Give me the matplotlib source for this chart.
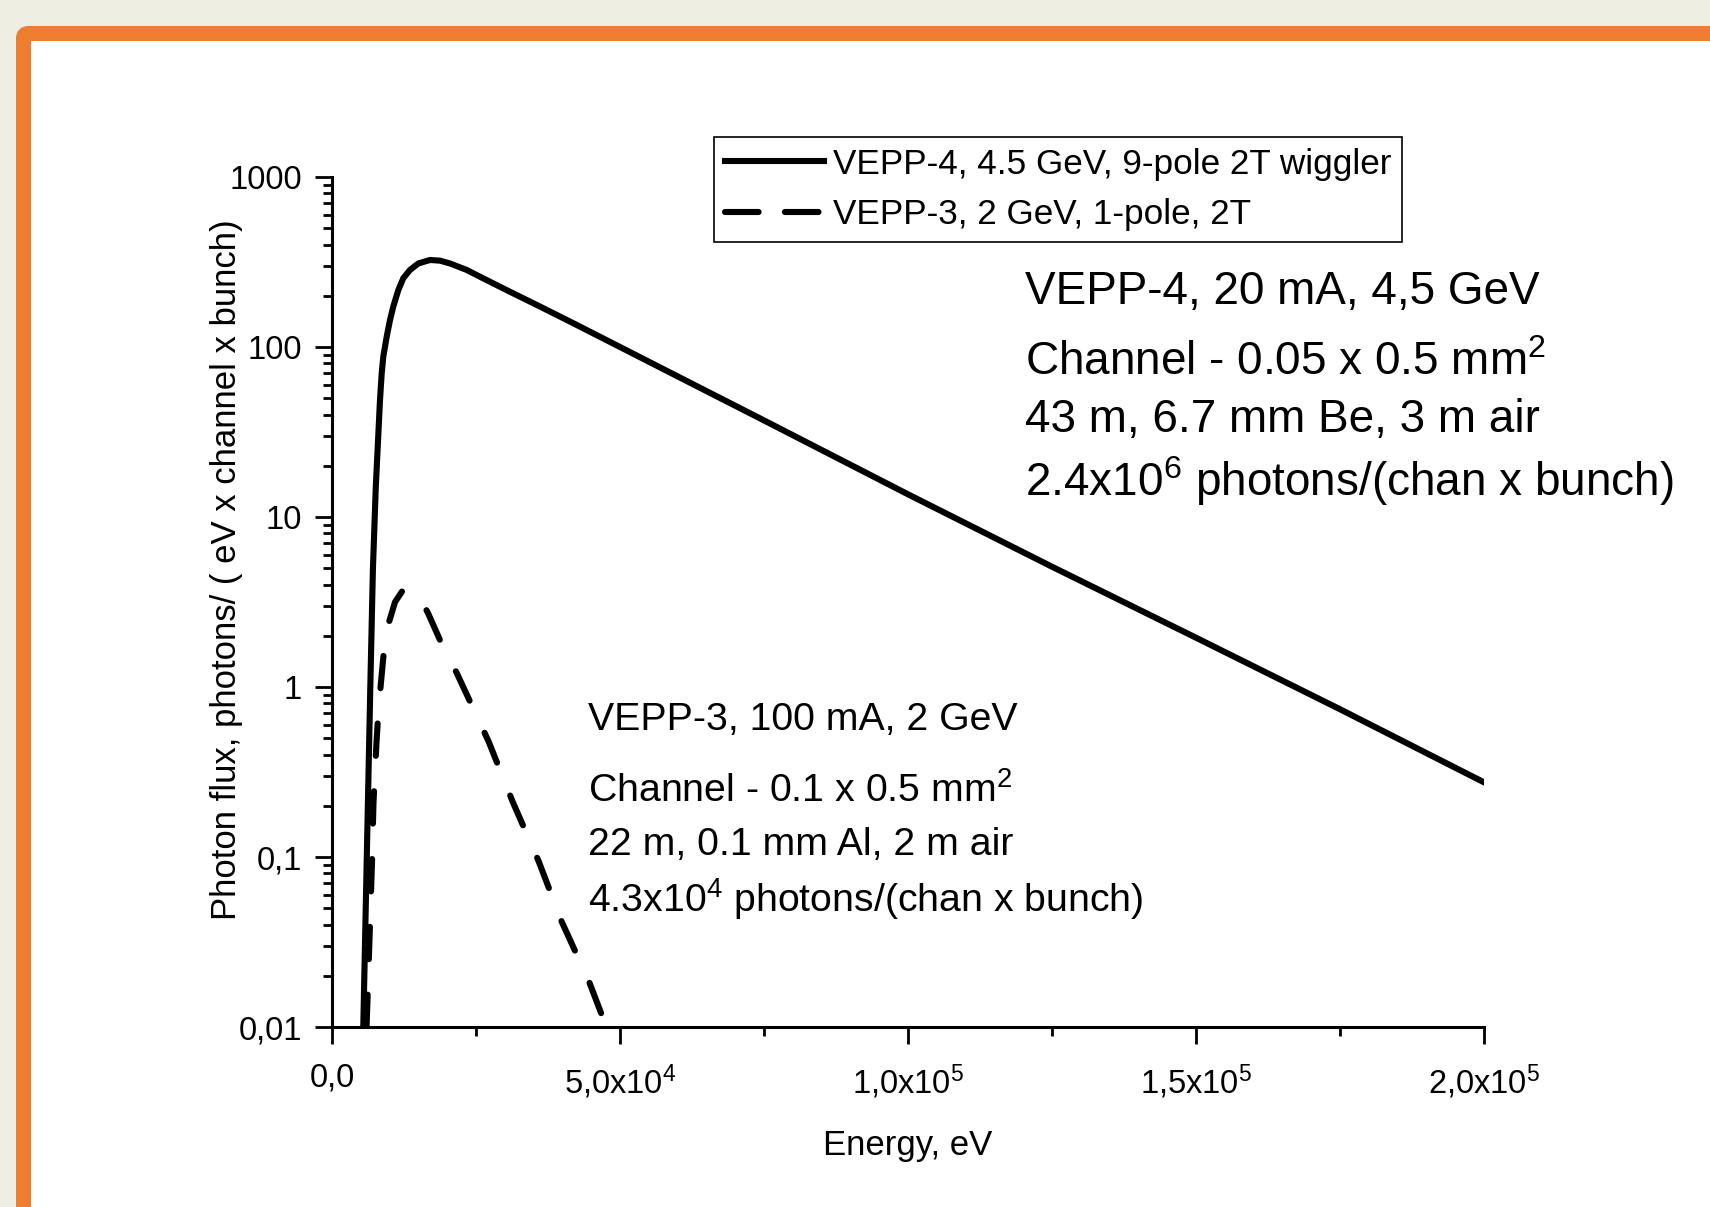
import numpy as np
import matplotlib.pyplot as plt
from matplotlib.patches import FancyBboxPatch
from matplotlib.lines import Line2D
from matplotlib.transforms import IdentityTransform
from matplotlib.ticker import FixedLocator, FixedFormatter, LogLocator, NullFormatter, MultipleLocator

plt.rcParams['font.family'] = ['Liberation Sans', 'DejaVu Sans']
plt.rcParams['mathtext.default'] = 'regular'

# VEPP-4, 9-pole wiggler
vepp4_energy = [5430, 6040, 6650, 7100, 7600, 8333, 8628, 8906, 9497, 10069, 10642, 11510,
                12380, 13542, 14988, 17014, 18750, 20486, 23380, 25694, 30330, 36110,
                41890, 50000, 75000, 100000, 125000, 150000, 175000, 200000]
vepp4_flux = [0.01, 0.1, 1.0, 4.9, 15, 48.8, 70, 87.7, 115, 144, 173, 216,
              254, 284, 310, 325, 322, 310, 284, 259, 216, 173,
              138, 100, 37, 13.6, 5.1, 1.95, 0.74, 0.275]

# VEPP-3, 1-pole
vepp3_energy = [6000, 6080, 6250, 6600, 6940, 7200, 7470, 7730, 8070, 8510, 9030, 9900,
                10940, 12330, 13540, 15280, 16670, 19150, 21650, 27190, 31350, 35900,
                39870, 44600, 47640]
vepp3_flux = [0.01, 0.0121, 0.0177, 0.041, 0.092, 0.208, 0.316, 0.474, 0.733, 1.07, 1.65, 2.41,
              3.16, 3.72, 3.72, 3.34, 2.72, 1.76, 1.21, 0.478, 0.212, 0.094,
              0.0417, 0.0186, 0.01]

legend_labels = ["VEPP-4, 4.5 GeV, 9-pole 2T wiggler", "VEPP-3, 2 GeV, 1-pole, 2T"]
x_ticks = [0, 5e4, 1e5, 1.5e5, 2e5]
x_ticklabels = ["0,0", "5,0x10$^{4}$", "1,0x10$^{5}$", "1,5x10$^{5}$", "2,0x10$^{5}$"]
y_ticks = [0.01, 0.1, 1, 10, 100, 1000]
y_ticklabels = ["0,01", "0,1", "1", "10", "100", "1000"]

vepp4_note = ["VEPP-4, 20 mA, 4,5 GeV",
              "Channel - 0.05 x 0.5 mm$^{2}$",
              "43 m, 6.7 mm Be, 3 m air",
              "2.4x10$^{6}$ photons/(chan x bunch)"]
vepp3_note = ["VEPP-3, 100 mA, 2 GeV",
              "Channel - 0.1 x 0.5 mm$^{2}$",
              "22 m, 0.1 mm Al, 2 m air",
              "4.3x10$^{4}$ photons/(chan x bunch)"]

fig = plt.figure(figsize=(17.1, 12.07), dpi=100)
fig.patch.set_facecolor('#eeeee2')

# orange slide frame
frame = FancyBboxPatch((23.5, -100), 1800, 1273.5, boxstyle='round,pad=0,rounding_size=5',
                       transform=IdentityTransform(), facecolor='white',
                       edgecolor='#ED7D31', linewidth=10.8, zorder=-1)
fig.add_artist(frame)

ax = fig.add_axes([332 / 1710, 180 / 1207, 1152 / 1710, 850 / 1207])
ax.patch.set_facecolor('none')

lw = 4.4
ax.plot(vepp4_energy, vepp4_flux, color='black', lw=lw, solid_joinstyle='round')
ax.plot(vepp3_energy, vepp3_flux, color='black', lw=lw, dashes=(5.3, 5.8),
        dash_capstyle='round')

ax.set_yscale('log')
ax.set_xlim(0, 2e5)
ax.set_ylim(0.01, 1000)

ax.xaxis.set_major_locator(FixedLocator(x_ticks))
ax.xaxis.set_major_formatter(FixedFormatter(x_ticklabels))
ax.xaxis.set_minor_locator(MultipleLocator(2.5e4))
ax.yaxis.set_major_locator(FixedLocator(y_ticks))
ax.yaxis.set_major_formatter(FixedFormatter(y_ticklabels))
ax.yaxis.set_minor_locator(LogLocator(base=10, subs=np.arange(2, 10)))
ax.yaxis.set_minor_formatter(NullFormatter())

for side in ['top', 'right']:
    ax.spines[side].set_visible(False)
for side in ['left', 'bottom']:
    ax.spines[side].set_linewidth(2.2)

ax.tick_params(which='major', direction='out', length=12.5, width=2, labelsize=23.5, pad=9)
ax.tick_params(which='minor', direction='out', length=6.5, width=2)
ax.tick_params(axis='x', which='major', pad=13)

ax.set_xlabel("Energy, eV", fontsize=25, va='center')
ax.xaxis.set_label_coords(0.5, -0.139)
ax.set_ylabel("Photon flux, photons/ ( eV x channel x bunch)", fontsize=25, va='center')
ax.yaxis.set_label_coords(-0.092, 0.538)

handles = [Line2D([], [], color='black', lw=lw),
           Line2D([], [], color='black', lw=lw, dashes=(5.5, 4.3), dash_capstyle='round')]
leg = ax.legend(handles, legend_labels, loc='upper left', bbox_to_anchor=(0.332, 1.047),
                borderaxespad=0, fontsize=25.3, fancybox=False, edgecolor='black',
                framealpha=1, handlelength=2.82, handletextpad=0.26,
                labelspacing=0.5, borderpad=0.3)
leg.get_frame().set_linewidth(1.2)

for txt, y in zip(vepp4_note, [0.8506, 0.767, 0.700, 0.6247]):
    ax.text(0.6016, y, txt, transform=ax.transAxes, fontsize=33, va='baseline', ha='left')
for txt, y in zip(vepp3_note, [0.3494, 0.2647, 0.2024, 0.1353]):
    ax.text(0.2222, y, txt, transform=ax.transAxes, fontsize=28.3, va='baseline', ha='left')

fig.savefig('out.png', dpi=100)
